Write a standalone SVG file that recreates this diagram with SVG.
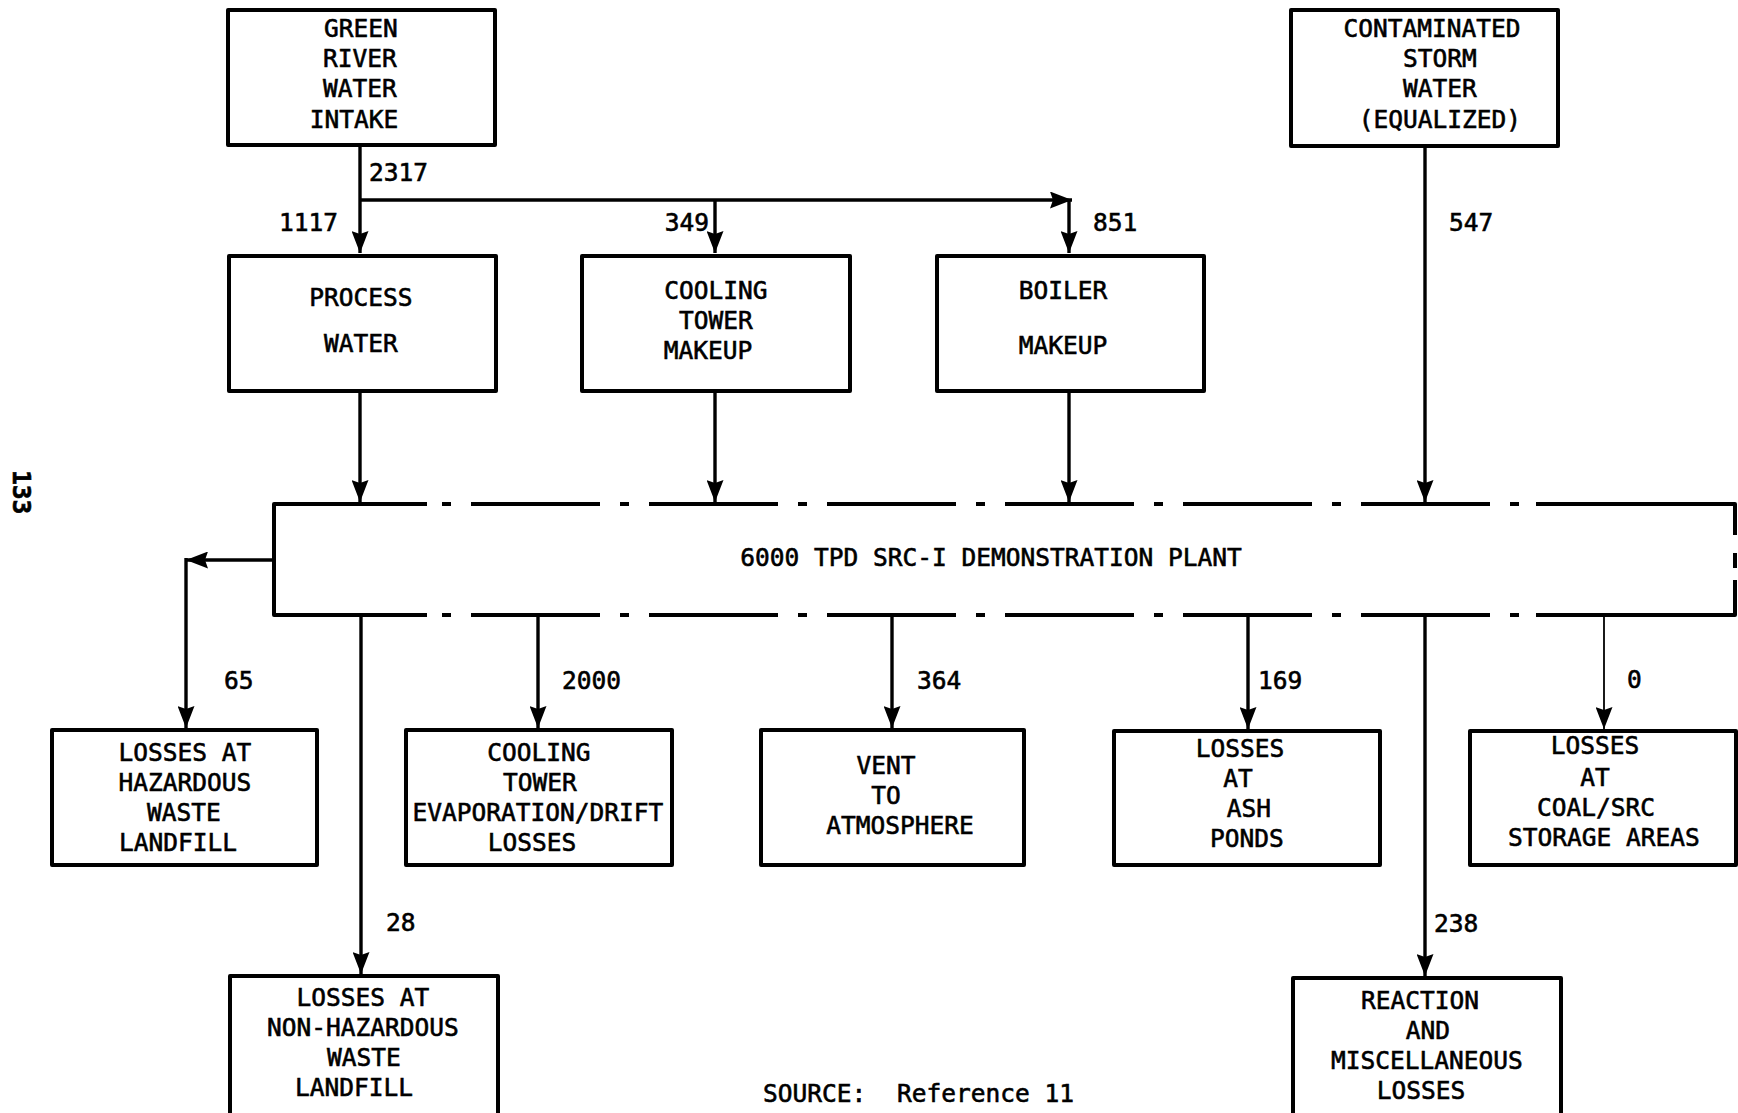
<svg xmlns="http://www.w3.org/2000/svg" width="1738" height="1113" viewBox="0 0 1738 1113">
<defs>
<style>
.box{fill:none;stroke:#000;stroke-width:4;stroke-linejoin:round}
.ln{fill:none;stroke:#000;stroke-width:3.4}
.thin{fill:none;stroke:#000;stroke-width:1.8}
text{font-family:"DejaVu Sans Mono","Liberation Mono",monospace;font-size:24.5px;fill:#000;stroke:#000;stroke-width:0.6}
.c{text-anchor:middle}
.e{text-anchor:end}
</style>
<marker id="ah" markerUnits="userSpaceOnUse" markerWidth="22" markerHeight="17" refX="22" refY="8.5" orient="auto">
<path d="M0,0 L22,8.5 L0,17 L3,8.5 z" fill="#000"/>
</marker>
</defs>
<rect width="1738" height="1113" fill="#fff"/>

<text transform="translate(13,470) rotate(90)" style="font-weight:bold">133</text>

<g id="green-river">
<rect class="box" x="228" y="10" width="267" height="135"/>
<text class="c" x="361" y="37">GREEN</text>
<text class="c" x="360" y="67">RIVER</text>
<text class="c" x="360" y="97">WATER</text>
<text class="c" x="354" y="128">INTAKE</text>
</g>

<g id="storm-water">
<rect class="box" x="1291" y="10" width="267" height="136"/>
<text class="c" x="1432" y="37">CONTAMINATED</text>
<text class="c" x="1440" y="67">STORM</text>
<text class="c" x="1440" y="97">WATER</text>
<text class="c" x="1440" y="128">(EQUALIZED)</text>
</g>

<g id="process-water">
<rect class="box" x="229" y="256" width="267" height="135"/>
<text class="c" x="361" y="306">PROCESS</text>
<text class="c" x="361" y="352">WATER</text>
</g>

<g id="cooling-tower-makeup">
<rect class="box" x="582" y="256" width="268" height="135"/>
<text class="c" x="716" y="299">COOLING</text>
<text class="c" x="716" y="329">TOWER</text>
<text class="c" x="708" y="359">MAKEUP</text>
</g>

<g id="boiler-makeup">
<rect class="box" x="937" y="256" width="267" height="135"/>
<text class="c" x="1063" y="299">BOILER</text>
<text class="c" x="1063" y="354">MAKEUP</text>
</g>

<g id="plant">
<path class="box" d="M427,504 H274 V615 H427"/>
<path class="box" d="M442,504 H1520" stroke-dasharray="9 20 129 20"/>
<path class="box" d="M442,615 H1520" stroke-dasharray="9 20 129 20"/>
<path class="box" d="M1536,504 H1735 V535"/>
<path class="box" d="M1735,553 V568"/>
<path class="box" d="M1735,580 V615 H1536"/>
<text class="c" x="991" y="566">6000 TPD SRC-I DEMONSTRATION PLANT</text>
</g>

<g id="hazardous-landfill">
<rect class="box" x="52" y="730" width="265" height="135"/>
<text class="c" x="185" y="761">LOSSES AT</text>
<text class="c" x="185" y="791">HAZARDOUS</text>
<text class="c" x="184" y="821">WASTE</text>
<text class="c" x="178" y="851">LANDFILL</text>
</g>

<g id="cooling-evaporation">
<rect class="box" x="406" y="730" width="266" height="135"/>
<text class="c" x="539" y="761">COOLING</text>
<text class="c" x="540" y="791">TOWER</text>
<text class="c" x="538" y="821">EVAPORATION/DRIFT</text>
<text class="c" x="532" y="851">LOSSES</text>
</g>

<g id="vent">
<rect class="box" x="761" y="730" width="263" height="135"/>
<text class="c" x="886" y="774">VENT</text>
<text class="c" x="886" y="804">TO</text>
<text class="c" x="900" y="834">ATMOSPHERE</text>
</g>

<g id="ash-ponds">
<rect class="box" x="1114" y="731" width="266" height="134"/>
<text class="c" x="1240" y="757">LOSSES</text>
<text class="c" x="1238" y="787">AT</text>
<text class="c" x="1249" y="817">ASH</text>
<text class="c" x="1247" y="847">PONDS</text>
</g>

<g id="coal-storage">
<rect class="box" x="1470" y="731" width="266" height="134"/>
<text class="c" x="1595" y="754">LOSSES</text>
<text class="c" x="1595" y="786">AT</text>
<text class="c" x="1596" y="816">COAL/SRC</text>
<text class="c" x="1604" y="846">STORAGE AREAS</text>
</g>

<g id="non-hazardous-landfill">
<rect class="box" x="230" y="976" width="268" height="150"/>
<text class="c" x="363" y="1006">LOSSES AT</text>
<text class="c" x="363" y="1036">NON-HAZARDOUS</text>
<text class="c" x="364" y="1066">WASTE</text>
<text class="c" x="354" y="1096">LANDFILL</text>
</g>

<g id="reaction-losses">
<rect class="box" x="1293" y="978" width="268" height="150"/>
<text class="c" x="1420" y="1009">REACTION</text>
<text class="c" x="1428" y="1039">AND</text>
<text class="c" x="1427" y="1069">MISCELLANEOUS</text>
<text class="c" x="1421" y="1099">LOSSES</text>
</g>

<g id="source">
<text x="763" y="1102">SOURCE:</text>
<text x="897" y="1102">Reference 11</text>
</g>

<g id="connectors">
<path class="ln" d="M360,145 V253" marker-end="url(#ah)"/>
<path class="ln" d="M360,200 H1072" marker-end="url(#ah)"/>
<path class="ln" d="M715,200 V253" marker-end="url(#ah)"/>
<path class="ln" d="M1069,200 V253" marker-end="url(#ah)"/>
<path class="ln" d="M1425,146 V502" marker-end="url(#ah)"/>
<path class="ln" d="M360,391 V502" marker-end="url(#ah)"/>
<path class="ln" d="M715,391 V502" marker-end="url(#ah)"/>
<path class="ln" d="M1069,391 V502" marker-end="url(#ah)"/>
<path class="ln" d="M274,560 H186" marker-end="url(#ah)"/>
<path class="ln" d="M186,558 V728" marker-end="url(#ah)"/>
<path class="ln" d="M361,615 V974" marker-end="url(#ah)"/>
<path class="ln" d="M538,615 V728" marker-end="url(#ah)"/>
<path class="ln" d="M892,615 V728" marker-end="url(#ah)"/>
<path class="ln" d="M1248,615 V729" marker-end="url(#ah)"/>
<path class="thin" d="M1604,615 V729" marker-end="url(#ah)"/>
<path class="ln" d="M1425,615 V976" marker-end="url(#ah)"/>
<text x="369" y="181">2317</text>
<text class="e" x="338" y="231">1117</text>
<text class="e" x="709" y="231">349</text>
<text x="1093" y="231">851</text>
<text x="1449" y="231">547</text>
<text x="224" y="689">65</text>
<text x="562" y="689">2000</text>
<text x="917" y="689">364</text>
<text x="1258" y="689">169</text>
<text x="1627" y="688">0</text>
<text x="386" y="931">28</text>
<text x="1434" y="932">238</text>
</g>
</svg>
